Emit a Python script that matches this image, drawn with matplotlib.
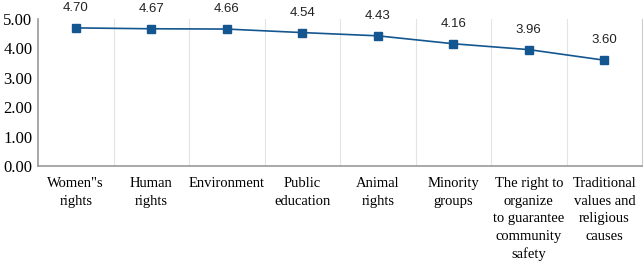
import numpy as np
import matplotlib.pyplot as plt

categories = ['Women"s\nrights', 'Human\nrights', 'Environment', 'Public\neducation',
              'Animal\nrights', 'Minority\ngroups',
              'The right to\norganize\nto guarantee\ncommunity\nsafety',
              'Traditional\nvalues and\nreligious\ncauses']
values = [4.70, 4.67, 4.66, 4.54, 4.43, 4.16, 3.96, 3.60]

line_color = '#14568f'

fig = plt.figure(figsize=(6.44, 2.65), dpi=100)
ax = fig.add_axes([0.059, 0.374, 0.938, 0.554])

x = np.arange(len(values))
ax.plot(x, values, color=line_color, linewidth=1.2, marker='s', markersize=6,
        markerfacecolor=line_color, markeredgecolor=line_color)

for xi, v in zip(x, values):
    ax.annotate(f'{v:.2f}', (xi, v), xytext=(0, 10), textcoords='offset points',
                ha='center', va='bottom', fontsize=9.5, family='Liberation Sans',
                color='#222222')

ax.set_xlim(-0.5, len(values) - 0.5)
ax.set_ylim(0, 5)
ax.set_yticks(np.arange(0, 5.01, 1))
ax.set_yticklabels([f'{t:.2f}' for t in np.arange(0, 5.01, 1)],
                   family='Liberation Serif', fontsize=12)
ax.set_xticks(x)
ax.set_xticklabels(categories, family='Liberation Serif', fontsize=10.5,
                   linespacing=1.45, va='top')
ax.tick_params(axis='both', length=0)
ax.tick_params(axis='x', pad=8)
ax.tick_params(axis='y', pad=4)

# light vertical separators between categories
ax.set_xticks(np.arange(0.5, len(values) - 0.5, 1), minor=True)
ax.tick_params(axis='x', which='minor', length=0)
ax.grid(True, which='minor', axis='x', color='#e3e3e3', linewidth=0.8)
ax.grid(False, which='major')

for side in ['left', 'bottom']:
    ax.spines[side].set_color('#999999')
    ax.spines[side].set_linewidth(1.2)
ax.spines['right'].set_color('#cccccc')
ax.spines['top'].set_visible(False)

fig.savefig('out.png', dpi=100)
